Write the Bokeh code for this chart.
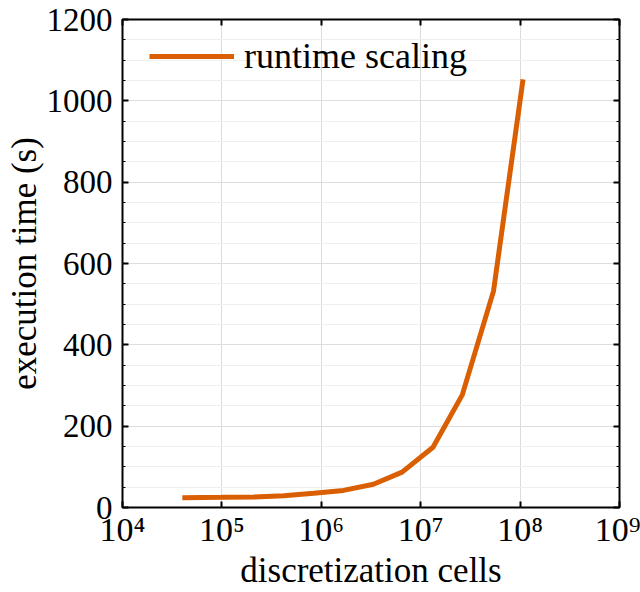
from bokeh.plotting import figure
from bokeh.models import LogAxis, LinearAxis, FixedTicker, Legend, LegendItem
from bokeh.embed import file_html
from bokeh.resources import INLINE

# Runtime scaling measurements
cells = [4.0e4, 1.0e5, 2.1e5, 4.2e5, 8.4e5, 1.67e6, 3.35e6, 6.5e6, 1.33e7, 2.62e7, 5.4e7, 1.07e8]
exec_time = [24, 25, 26, 29, 35, 42, 57, 87, 148, 277, 532, 1053]

x_ticks = [1e4, 1e5, 1e6, 1e7, 1e8, 1e9]
x_tick_labels = ["10⁴", "10⁵", "10⁶", "10⁷", "10⁸", "10⁹"]
y_ticks = [0, 200, 400, 600, 800, 1000, 1200]
y_minor_ticks = list(range(0, 1201, 50))

FONT = "Liberation Serif"
LINE_COLOR = "#d95f02"

p = figure(
    width=640, height=592,
    x_axis_type="log",
    x_range=(1e4, 1e9), y_range=(0, 1200),
    output_backend="svg", toolbar_location=None,
    min_border_left=122, min_border_right=21,
    min_border_top=19, min_border_bottom=85,
)
p.background_fill_color = "white"
p.border_fill_color = "white"
p.outline_line_color = "black"
p.outline_line_width = 2

line = p.line(cells, exec_time, line_color=LINE_COLOR, line_width=5)

# grids
p.xgrid.ticker = FixedTicker(ticks=x_ticks)
p.xgrid.grid_line_color = "#dcdcdc"
p.xgrid.grid_line_width = 1
p.ygrid.grid_line_color = "#dedede"
p.ygrid.grid_line_width = 1
p.ygrid.minor_grid_line_color = "#efefef"
p.ygrid.minor_grid_line_width = 1

def style_axis(ax, labels=True):
    ax.axis_line_color = None
    ax.major_tick_in = 6
    ax.major_tick_out = 0
    ax.minor_tick_in = 3
    ax.minor_tick_out = 0
    ax.major_tick_line_color = "black"
    ax.major_tick_line_width = 2
    ax.minor_tick_line_color = "black"
    ax.minor_tick_line_width = 1
    ax.major_label_text_font = FONT
    ax.major_label_text_font_size = "33px"
    ax.major_label_text_color = "black"
    ax.axis_label_text_font = FONT
    ax.axis_label_text_font_size = "35px"
    ax.axis_label_text_font_style = "normal"
    ax.axis_label_text_color = "black"
    if not labels:
        ax.major_label_text_font_size = "0px"
        ax.major_label_text_color = None

# bottom axis
xa = p.xaxis[0]
style_axis(xa)
xa.ticker = FixedTicker(ticks=x_ticks)
xa.major_label_overrides = {int(t): lab for t, lab in zip(x_ticks, x_tick_labels)}
xa.major_label_text_font_size = "34px"
xa.minor_tick_line_color = None
xa.major_label_standoff = 3
xa.axis_label = "discretization cells"
xa.axis_label_standoff = 0

# left axis
ya = p.yaxis[0]
style_axis(ya)
ya.ticker = FixedTicker(ticks=y_ticks, minor_ticks=y_minor_ticks)
ya.major_label_standoff = 10
ya.axis_label = "execution time (s)"
ya.axis_label_standoff = 0

# mirrored axes on top and right with inward ticks only
top = LogAxis(ticker=FixedTicker(ticks=x_ticks))
style_axis(top, labels=False)
top.minor_tick_line_color = None
p.add_layout(top, "above")

right = LinearAxis(ticker=FixedTicker(ticks=y_ticks, minor_ticks=y_minor_ticks))
style_axis(right, labels=False)
p.add_layout(right, "right")

legend = Legend(
    items=[LegendItem(label="runtime scaling", renderers=[line])],
    location=(27, 429),
    background_fill_alpha=0, border_line_color=None,
    label_text_font=FONT, label_text_font_size="36px", label_text_color="black",
    glyph_width=85, glyph_height=44, label_height=44, label_standoff=10,
    margin=0, padding=10, spacing=0,
)
p.add_layout(legend)

open("out.html", "w").write(file_html(p, INLINE))
